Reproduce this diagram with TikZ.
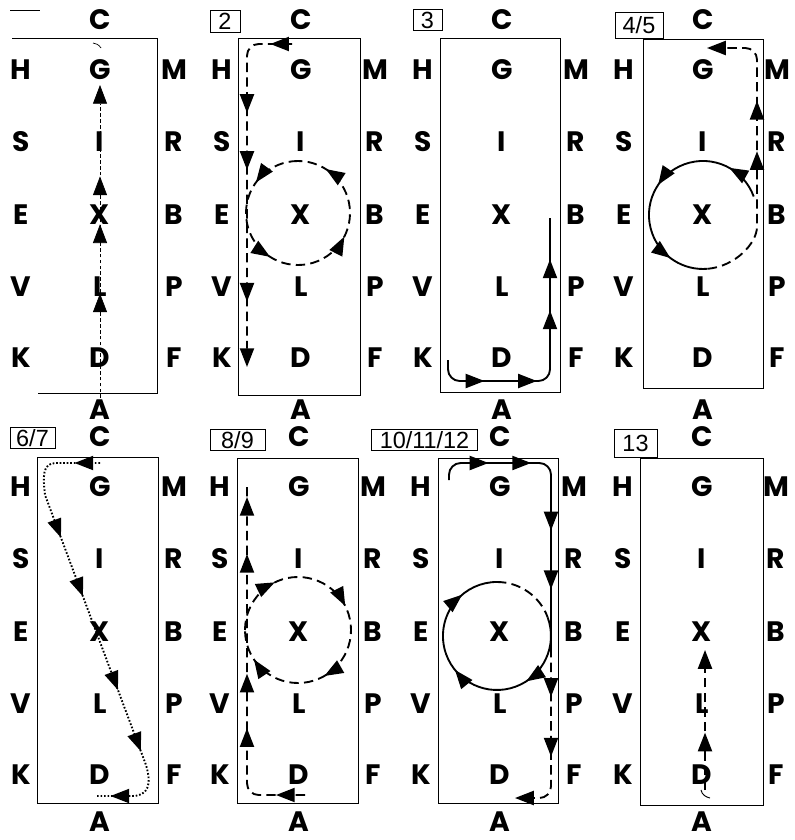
\documentclass[tikz,border=0pt]{standalone}
\usepackage{fontspec}
\setmainfont{Poppins}
\newfontfamily\tagfont{Liberation Sans}
\usetikzlibrary{arrows.meta,decorations.markings}
\tikzset{
  ltr/.style={font=\fontsize{24}{26}\selectfont\bfseries, inner sep=0pt},
  panelframe/.style={line width=0.7pt},
  tagbox/.style={draw, line width=0.6pt, inner sep=0pt, font=\tagfont\fontsize{20}{22}\selectfont},
  route/.style={line width=1.6pt},
  dashroute/.style={route, dash pattern=on 8pt off 4.5pt},
  dotroute/.style={route, dash pattern=on 1.4pt off 1.6pt},
  thinroute/.style={line width=0.6pt, dash pattern=on 3pt off 2pt},
  tri/.tip={Triangle[length=16pt,width=12pt]},
  headat/.style={postaction={decorate, decoration={markings, mark=at position #1 with {\arrow{tri}}}}},
}
\newcommand\letterpanel[4]{%
  \begin{scope}[shift={(#2,#3)}]
    \node[ltr] (#1C) at (100,20) {C};
    \node[ltr] (#1A) at (100,#4) {A};
    \foreach \l/\m/\r/\yy in {H/G/M/70,S/I/R/142,E/X/B/215,V/L/P/287,K/D/F/358}{
      \node[ltr] (#1\l) at (21,\yy) {\l};
      \node[ltr] (#1\m) at (100,\yy) {\m};
      \node[ltr] (#1\r) at (174,\yy) {\r};
    }
  \end{scope}}

\begin{document}
\begin{tikzpicture}[x=0.03cm, y=-0.03cm]
  \useasboundingbox (0,0) rectangle (795,840);

  \letterpanel{p1}{0}{0}{410}
  \letterpanel{p2}{201}{0}{410}
  \letterpanel{p3}{402}{0}{410}
  \letterpanel{p4}{603}{0}{410}
  \letterpanel{p5}{0}{417}{405}
  \letterpanel{p6}{199}{417}{405}
  \letterpanel{p7}{400}{417}{405}
  \letterpanel{p8}{602}{417}{405}

  % 1
  \draw[panelframe] (12,38) -- (157,38) -- (157,393) -- (38,393);
  \draw[line width=0.6pt] (10,10) -- (40,10);
  \draw[thinroute, -{tri}, headat=0.334, headat=0.555, headat=0.708] (100,398) -- (100,85);
  \draw[line width=0.6pt] (93,43) .. controls (96,43) and (99,45) .. (101,48);

  % 2
  \draw[panelframe] (238,38) rectangle (360,395);
  \node[tagbox, minimum width=0.9cm, minimum height=0.66cm] (tag2) at (225,21) {2};
  \draw[dashroute, rounded corners=10pt, -{tri}, headat=0.06, headat=0.30, headat=0.457, headat=0.82]
    (292,44) -- (247,44) -- (247,367);
  \draw[dashroute, headat=0.15, headat=0.41, headat=0.675, headat=0.91]
    (298,161) arc[start angle=270, end angle=-90, radius=52];

  % 3
  \draw[panelframe] (440,38) rectangle (560,392);
  \node[tagbox, minimum width=0.87cm, minimum height=0.62cm] (tag3) at (427.5,20) {3};
  \draw[route, rounded corners=10pt, headat=0.19, headat=0.38, headat=0.665, headat=0.85]
    (448,360) -- (448,381) -- (550,381) -- (550,218);

  % 4/5
  \draw[panelframe] (643,39) rectangle (763,388);
  \node[tagbox, minimum width=1.44cm, minimum height=0.78cm] (tag4) at (639,25) {4/5};
  \draw[route, headat=0.16, headat=0.494, headat=0.835]
    (753.7,196.5) arc[start angle=340, end angle=85, radius=54];
  \draw[dashroute, rounded corners=10pt, -{tri}, headat=0.495, headat=0.667]
    (707.7,268.8) arc[start angle=85, end angle=0, radius=54] -- (757,48) -- (707,48);

  % 6/7
  \draw[panelframe] (37,457) rectangle (158,803);
  \node[tagbox, minimum width=1.35cm, minimum height=0.62cm] (tag6) at (32.5,438) {6/7};
  \draw[dotroute, headat=0.057, headat=0.287, headat=0.427, headat=0.65, headat=0.796, headat=0.97]
    (100,463) -- (56,463) .. controls (42,463) and (43,477) .. (45,495) -- (146,765)
    .. controls (152,785) and (148,796) .. (132,796) -- (97,796);

  % 8/9
  \draw[panelframe] (237,458) rectangle (358,803);
  \node[tagbox, minimum width=1.65cm, minimum height=0.62cm] (tag8) at (237.5,440) {8/9};
  \draw[dashroute, rounded corners=10pt, headat=0.08, headat=0.33, headat=0.48, headat=0.81, headat=0.967]
    (305,795) -- (247,795) -- (247,485);
  \draw[dashroute, headat=0.178, headat=0.425, headat=0.667, headat=0.906]
    (245,630) arc[start angle=180, end angle=540, radius=53];

  % 10/11/12
  \draw[panelframe] (438,458) rectangle (558,803);
  \node[tagbox, minimum width=3.2cm, minimum height=0.62cm] (tag10) at (424.5,440) {10/11/12};
  \draw[route, rounded corners=10pt, headat=0.175, headat=0.32, headat=0.60, headat=0.80]
    (449,480) -- (449,463) -- (551,463) -- (551,648);
  \draw[dashroute, rounded corners=10pt, -{tri}, headat=0.27, headat=0.60]
    (551,648) -- (551,798) -- (515,798);
  \draw[route, headat=0.266, headat=0.555, headat=0.862]
    (547.7,617.5) arc[start angle=-20, end angle=270, radius=54];
  \draw[dashroute] (497,582) arc[start angle=270, end angle=340, radius=54];

  % 13
  \draw[panelframe] (640,458) rectangle (763,805);
  \node[tagbox, minimum width=1.29cm, minimum height=0.84cm] (tag13) at (635.5,443) {13};
  \draw[dashroute, -{tri}, headat=0.41] (705,790) -- (705,650);
  \draw[line width=0.8pt] (701,790) .. controls (702,795) and (706,797) .. (710,798);
\end{tikzpicture}
\end{document}
